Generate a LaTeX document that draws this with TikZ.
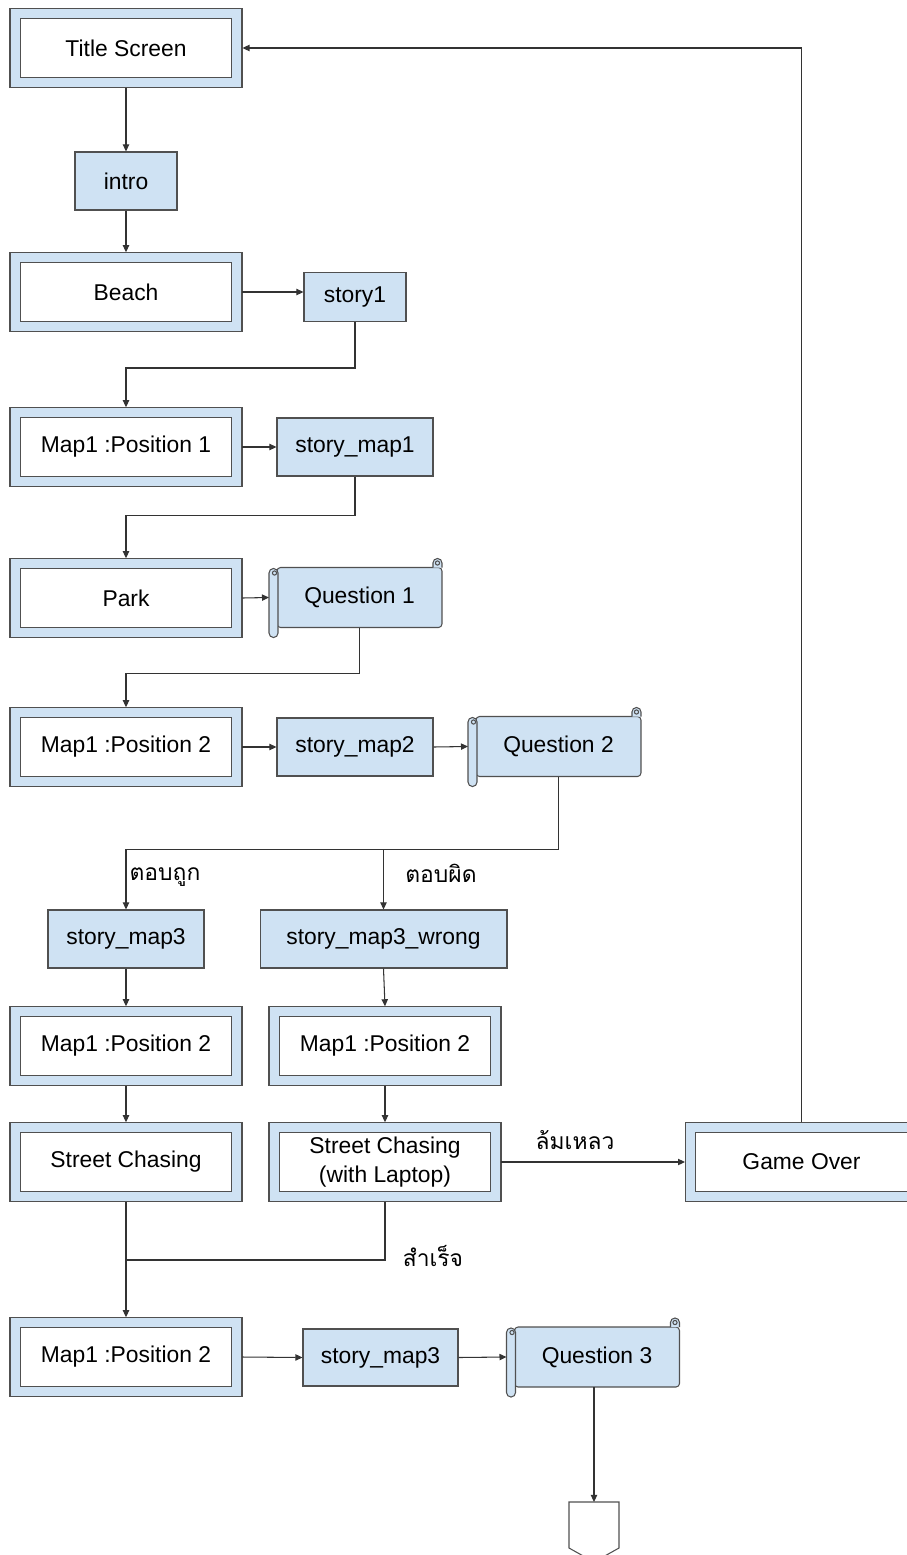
\documentclass[tikz,border=0pt]{standalone}
\usepackage{fontspec}
\setmainfont{Liberation Sans}
\newfontfamily\thaifont[Script=Thai]{Loma}
\usetikzlibrary{arrows.meta}
\definecolor{paleblue}{HTML}{CFE2F3}
\definecolor{edgegray}{HTML}{505050}

\tikzset{
  screen/.style={draw=edgegray, line width=0.6pt, double=paleblue, double distance=0.18cm,
    fill=white, minimum width=4.44cm, minimum height=1.37cm, outer sep=0.11cm,
    align=center, inner sep=1pt},
  card/.style={draw=edgegray, line width=0.6pt, fill=paleblue, minimum height=1.16cm, inner sep=2pt},
  scroll/.style={draw=edgegray, line width=0.6pt, fill=paleblue, minimum width=3.3cm,
    minimum height=1.2cm, rounded corners=2pt, outer xsep=0.16cm, outer ysep=0pt},
  scrollpart/.style={draw=edgegray, line width=0.6pt, fill=paleblue},
  link/.style={draw=black!80, line width=0.6pt, -{Triangle[length=4pt,width=3.6pt]}},
  joint/.style={draw=black!80, line width=0.6pt},
  thailabel/.style={font=\fontsize{13}{15}\thaifont},
}

% left roll and top curl of a scroll node
\newcommand{\scrollparts}[1]{%
  \filldraw[scrollpart, rounded corners=2.5pt] ([shift={(-17,0)}]#1.north east) -- ++(0,-9) -- ++(9,0) -- ++(0,9);
  \draw[scrollpart, fill=none] ([shift={(-12.5,-4.5)}]#1.north east) circle (1.2pt);
  \filldraw[scrollpart, rounded corners=2.5pt] ([shift={(0,1)}]#1.north west) rectangle ([shift={(9,10)}]#1.south west);
  \draw[scrollpart, fill=none] ([shift={(5.5,5.5)}]#1.north west) circle (1.2pt);
}

\begin{document}
\begin{tikzpicture}[x=0.02cm, y=-0.02cm, font=\fontsize{13}{15.5}\selectfont]
  \useasboundingbox (0,0) rectangle (906,1555);

  % screens and story cards
  \node[screen] (title) at (126,48) {Title Screen};
  \node[card, minimum width=2.04cm] (intro) at (126,181) {intro};
  \node[screen] (beach) at (126,292) {Beach};
  \node[card, minimum width=2.04cm, minimum height=0.98cm] (story1) at (355,297) {story1};
  \node[screen] (mapA) at (126,447) {Map1 :Position 1};
  \node[card, minimum width=3.12cm] (smapA) at (355,447) {story\_map1};
  \node[screen] (park) at (126,598) {Park};
  \node[scroll] (qone) at (359.5,597.5) {Question 1};
  \scrollparts{qone}
  \node[screen] (mapB) at (126,747) {Map1 :Position 2};
  \node[card, minimum width=3.12cm] (smapB) at (355,747) {story\_map2};
  \node[scroll] (qtwo) at (558.5,746.5) {Question 2};
  \scrollparts{qtwo}
  \node[card, minimum width=3.12cm] (smapC) at (126,939) {story\_map3};
  \node[card, minimum width=4.94cm] (smapW) at (383.5,939) {story\_map3\_wrong};
  \node[screen] (mapC) at (126,1046) {Map1 :Position 2};
  \node[screen] (mapD) at (385,1046) {Map1 :Position 2};
  \node[screen] (street) at (126,1162) {Street Chasing};
  \node[screen] (streetL) at (385,1162) {Street Chasing\\[1pt](with Laptop)};
  \node[screen] (over) at (801.5,1162) {Game Over};
  \node[screen] (mapE) at (126,1357) {Map1 :Position 2};
  \node[card, minimum width=3.1cm, minimum height=1.14cm] (smapE) at (380.5,1357.5) {story\_map3};
  \node[scroll] (qthree) at (597,1357) {Question 3};
  \scrollparts{qthree}
  \node[minimum width=1cm, minimum height=1.2cm, inner sep=0pt, outer sep=0pt] (offpage) at (594,1532) {};
  \draw[joint, draw=edgegray] (offpage.north west) -- (offpage.north east)
    -- ([shift={(0,-14)}]offpage.south east) -- (offpage.south)
    -- ([shift={(0,-14)}]offpage.south west) -- cycle;

  % labels
  \node[thailabel] (right) at (165,877) {ตอบถูก};
  \node[thailabel] (wrong) at (441,873) {ตอบผิด};
  \node[thailabel] (fail) at (575,1140) {ล้มเหลว};
  \node[thailabel] (done) at (433,1256) {สำเร็จ};

  \coordinate (fork) at (383.5,849);
  \coordinate (merge) at (126,1260);

  % connectors
  \draw[link] (title.south) -- (intro.north);
  \draw[link] (intro.south) -- (beach.north);
  \draw[link] (beach.east) -- (beach.east -| story1.west);
  \draw[link] (story1.south) -- ++(0,46) -| (mapA.north);
  \draw[link] (mapA.east) -- (smapA.west);
  \draw[link] (smapA.south) -- ++(0,39) -| (park.north);
  \draw[link] (park.east) -- (qone.west);
  \draw[link] (qone.south) -- ++(0,46) -| (mapB.north);
  \draw[link] (mapB.east) -- (smapB.west);
  \draw[link] (smapB.east) -- (qtwo.west);
  \draw[link] (qtwo.south) -- ++(0,73) -| (smapC.north);
  \draw[link] (fork) -- (smapW.north);
  \draw[link] (smapC.south) -- (mapC.north);
  \draw[link] (smapW.south) -- (mapD.north);
  \draw[link] (mapC.south) -- (street.north);
  \draw[link] (mapD.south) -- (streetL.north);
  \draw[link] (streetL.east) -- (over.west);
  \draw[link] (over.north) |- (title.east);
  \draw[link] (street.south) -- (mapE.north);
  \draw[joint] (streetL.south) |- (merge);
  \draw[link] (mapE.east) -- (smapE.west);
  \draw[link] (smapE.east) -- (qthree.west);
  \draw[link] (qthree.south -| offpage.north) -- (offpage.north);
\end{tikzpicture}
\end{document}
